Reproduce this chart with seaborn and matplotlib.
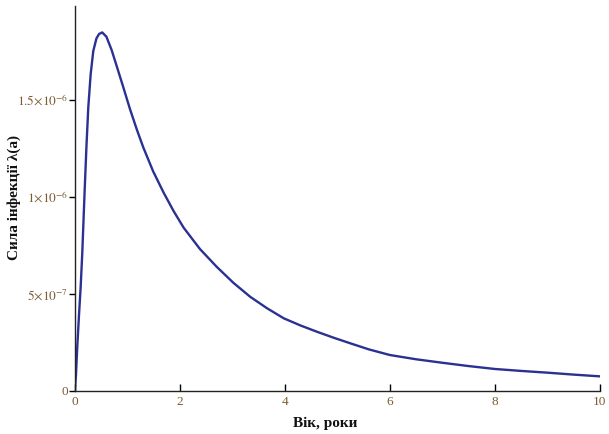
import matplotlib
matplotlib.use("Agg")
import matplotlib.pyplot as plt
import seaborn as sns
import pandas as pd

# Data (age in years, force of infection in units of 1e-7)
age = [0, 0.02, 0.044, 0.076, 0.11, 0.14, 0.17, 0.19, 0.22, 0.255, 0.30, 0.35, 0.41,
       0.46, 0.52, 0.60, 0.70, 0.80, 0.92, 1.05, 1.18, 1.30, 1.49, 1.69, 1.88, 2.07,
       2.38, 2.70, 3.02, 3.34, 3.66, 3.98, 4.30, 4.61, 4.93, 5.25, 5.6, 6, 6.5, 7,
       7.5, 8, 8.5, 9, 9.5, 10]
force = [0, 0.8, 2.2, 3.8, 5.35, 7.07, 9.2, 10.6, 12.6, 14.6, 16.3, 17.5, 18.15,
         18.38, 18.46, 18.24, 17.55, 16.69, 15.65, 14.5, 13.45, 12.55, 11.3, 10.2,
         9.25, 8.4, 7.30, 6.38, 5.55, 4.83, 4.24, 3.72, 3.35, 3.03, 2.72, 2.43, 2.12,
         1.83, 1.61, 1.43, 1.26, 1.11, 1.01, 0.92, 0.82, 0.73]
force = [v * 1e-7 for v in force]

xticks = [0, 2, 4, 6, 8, 10]
yticks = [0, 5e-7, 1e-6, 1.5e-6]
ytick_labels = ['0', r'$5{\times}10^{-7}$', r'$1{\times}10^{-6}$', r'$1.5{\times}10^{-6}$']

df = pd.DataFrame({"age": age, "force": force})

sns.set_style("ticks")
plt.rcParams['font.family'] = ['Liberation Serif', 'DejaVu Serif']
plt.rcParams['mathtext.fontset'] = 'stix'

fig = plt.figure(figsize=(6.09, 4.34), dpi=100)
ax = fig.add_axes([0.123, 0.1002, 0.862, 0.885])

sns.lineplot(data=df, x="age", y="force", ax=ax, color="#2a3192", linewidth=1.7,
             estimator=None, sort=False)

ax.set_xlim(0, 10)
ax.set_ylim(0, 1.98e-6)
ax.set_xticks(xticks)
ax.set_xticklabels([str(t) for t in xticks])
ax.set_yticks(yticks)
ax.set_yticklabels(ytick_labels)

tick_color = "#7a5c33"
ax.tick_params(axis='x', direction='in', length=5, width=1, colors='black',
               labelcolor=tick_color, labelsize=9.5, pad=4)
ax.tick_params(axis='y', direction='out', length=4, width=1, colors='black',
               labelcolor=tick_color, labelsize=9.5, pad=1)

for side in ['top', 'right']:
    ax.spines[side].set_visible(False)
for side in ['left', 'bottom']:
    ax.spines[side].set_color('#222222')
    ax.spines[side].set_linewidth(1.0)

ax.set_xlabel("")
ax.set_ylabel("")
fig.text(325 / 609, 1 - 423 / 434, "Вік, роки", ha='center', va='center',
         fontsize=11, fontweight='bold', color='#111111')
fig.text(14 / 609, 1 - 197 / 434, "Сила інфекції λ(a)", ha='center', va='center',
         rotation=90, fontsize=11, fontweight='bold', color='#111111')

fig.savefig("out.png", dpi=100)
